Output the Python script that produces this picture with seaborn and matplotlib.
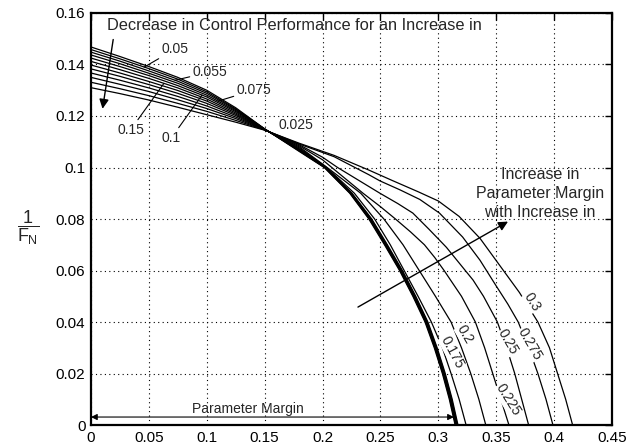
import numpy as np
import pandas as pd
import matplotlib
matplotlib.use("Agg")
import matplotlib.pyplot as plt
import seaborn as sns

# ---- curve data: 1/F_N against parameter margin, one curve per parameter value ----
params = ["0.025", "0.05", "0.055", "0.075", "0.1", "0.15",
          "0.175", "0.2", "0.225", "0.25", "0.275", "0.3"]

x_0025 = [0, 0.025, 0.05, 0.075, 0.1, 0.125, 0.15, 0.18, 0.2015, 0.2235, 0.2400, 0.2535, 0.2665, 0.2780, 0.2885, 0.2965, 0.3035, 0.3095, 0.3145]
y_0025 = [0.1468, 0.1431, 0.1392, 0.1350, 0.1300, 0.1232, 0.1150, 0.1062, 0.100, 0.090, 0.080, 0.070, 0.060, 0.050, 0.040, 0.030, 0.020, 0.010, 0.0]

x_0050 = [0, 0.025, 0.05, 0.075, 0.1, 0.125, 0.15, 0.18, 0.2018, 0.2239, 0.2405, 0.2540, 0.2670, 0.2785, 0.2890, 0.2970, 0.3040, 0.3100, 0.3150]
y_0050 = [0.1458, 0.1422, 0.1384, 0.1343, 0.1294, 0.1228, 0.1150, 0.1064, 0.100, 0.090, 0.080, 0.070, 0.060, 0.050, 0.040, 0.030, 0.020, 0.010, 0.0]

x_0055 = [0, 0.025, 0.05, 0.075, 0.1, 0.125, 0.15, 0.18, 0.2021, 0.2243, 0.2410, 0.2545, 0.2675, 0.2790, 0.2895, 0.2975, 0.3045, 0.3105, 0.3155]
y_0055 = [0.1448, 0.1413, 0.1375, 0.1335, 0.1288, 0.1225, 0.1149, 0.1066, 0.100, 0.090, 0.080, 0.070, 0.060, 0.050, 0.040, 0.030, 0.020, 0.010, 0.0]

x_0075 = [0, 0.025, 0.05, 0.075, 0.1, 0.125, 0.15, 0.18, 0.2024, 0.2247, 0.2415, 0.2550, 0.2680, 0.2795, 0.2900, 0.2980, 0.3050, 0.3110, 0.3160]
y_0075 = [0.1437, 0.1403, 0.1366, 0.1327, 0.1281, 0.1221, 0.1149, 0.1068, 0.100, 0.090, 0.080, 0.070, 0.060, 0.050, 0.040, 0.030, 0.020, 0.010, 0.0]

x_0100 = [0, 0.025, 0.05, 0.075, 0.1, 0.125, 0.15, 0.18, 0.2027, 0.2251, 0.2420, 0.2555, 0.2685, 0.2800, 0.2905, 0.2985, 0.3055, 0.3115, 0.3165]
y_0100 = [0.1425, 0.1392, 0.1357, 0.1318, 0.1274, 0.1217, 0.1149, 0.1070, 0.100, 0.090, 0.080, 0.070, 0.060, 0.050, 0.040, 0.030, 0.020, 0.010, 0.0]

x_0150 = [0, 0.025, 0.05, 0.075, 0.1, 0.125, 0.15, 0.18, 0.2030, 0.2255, 0.2425, 0.2560, 0.2690, 0.2805, 0.2910, 0.2990, 0.3060, 0.3120, 0.3170]
y_0150 = [0.1412, 0.1380, 0.1346, 0.1309, 0.1266, 0.1212, 0.1148, 0.1072, 0.100, 0.090, 0.080, 0.070, 0.060, 0.050, 0.040, 0.030, 0.020, 0.010, 0.0]

x_0175 = [0, 0.025, 0.05, 0.075, 0.1, 0.125, 0.15, 0.18, 0.2035, 0.2275, 0.2450, 0.2585, 0.2705, 0.2825, 0.2940, 0.3035, 0.3110, 0.3180, 0.3240]
y_0175 = [0.1398, 0.1367, 0.1334, 0.1299, 0.1258, 0.1207, 0.1148, 0.1076, 0.100, 0.090, 0.080, 0.070, 0.060, 0.050, 0.040, 0.030, 0.020, 0.010, 0.0]

x_0200 = [0, 0.025, 0.05, 0.075, 0.1, 0.125, 0.15, 0.18, 0.2040, 0.2330, 0.2530, 0.2695, 0.2835, 0.2975, 0.3110, 0.3200, 0.3280, 0.3350, 0.3410]
y_0200 = [0.1383, 0.1354, 0.1322, 0.1288, 0.1249, 0.1202, 0.1147, 0.1080, 0.100, 0.090, 0.080, 0.070, 0.060, 0.050, 0.040, 0.030, 0.020, 0.010, 0.0]

x_0225 = [0, 0.025, 0.05, 0.075, 0.1, 0.125, 0.15, 0.18, 0.2, 0.208, 0.235, 0.250, 0.263, 0.276, 0.288, 0.297, 0.305, 0.320, 0.332, 0.340, 0.347, 0.354, 0.361]
y_0225 = [0.1367, 0.1339, 0.1309, 0.1276, 0.1239, 0.1196, 0.1147, 0.1084, 0.1030, 0.100, 0.090, 0.0848, 0.080, 0.075, 0.070, 0.065, 0.060, 0.050, 0.040, 0.030, 0.020, 0.010, 0.0]

x_0250 = [0, 0.025, 0.05, 0.075, 0.1, 0.125, 0.15, 0.18, 0.2, 0.213, 0.2496, 0.265, 0.278, 0.292, 0.307, 0.330, 0.339, 0.351, 0.359, 0.366, 0.372, 0.378]
y_0250 = [0.1350, 0.1323, 0.1295, 0.1263, 0.1229, 0.1190, 0.1146, 0.1088, 0.1040, 0.100, 0.090, 0.086, 0.0823, 0.076, 0.069, 0.0563, 0.050, 0.040, 0.030, 0.020, 0.010, 0.0]

x_0275 = [0, 0.025, 0.05, 0.075, 0.1, 0.125, 0.15, 0.18, 0.21, 0.24, 0.2496, 0.267, 0.284, 0.301, 0.321, 0.336, 0.350, 0.360, 0.369, 0.378, 0.386, 0.393, 0.399]
y_0275 = [0.1331, 0.1306, 0.1279, 0.1249, 0.1218, 0.1183, 0.1146, 0.1091, 0.1042, 0.0972, 0.0948, 0.0913, 0.0876, 0.0823, 0.0730, 0.0640, 0.0540, 0.0470, 0.040, 0.030, 0.020, 0.010, 0.0]

x_0300 = [0, 0.025, 0.05, 0.075, 0.1, 0.125, 0.15, 0.18, 0.21, 0.24, 0.26, 0.283, 0.300, 0.318, 0.336, 0.353, 0.370, 0.386, 0.396, 0.403, 0.410, 0.416]
y_0300 = [0.1310, 0.1287, 0.1262, 0.1234, 0.1205, 0.1176, 0.1145, 0.1094, 0.1047, 0.0990, 0.0950, 0.0905, 0.0870, 0.0810, 0.0725, 0.0620, 0.0515, 0.040, 0.030, 0.020, 0.010, 0.0]

curve_x = [x_0025, x_0050, x_0055, x_0075, x_0100, x_0150,
           x_0175, x_0200, x_0225, x_0250, x_0275, x_0300]
curve_y = [y_0025, y_0050, y_0055, y_0075, y_0100, y_0150,
           y_0175, y_0200, y_0225, y_0250, y_0275, y_0300]

# tick labels
x_ticks = [0, 0.05, 0.1, 0.15, 0.2, 0.25, 0.3, 0.35, 0.4, 0.45]
x_ticklabels = ["0", "0.05", "0.1", "0.15", "0.2", "0.25", "0.3", "0.35", "0.4", "0.45"]
y_ticks = [0, 0.02, 0.04, 0.06, 0.08, 0.1, 0.12, 0.14, 0.16]
y_ticklabels = ["0", "0.02", "0.04", "0.06", "0.08", "0.1", "0.12", "0.14", "0.16"]

# long-form table for seaborn
rows = []
for p, xs, ys in zip(params, curve_x, curve_y):
    for i, (xv, yv) in enumerate(zip(xs, ys)):
        rows.append({"param": p, "order": i, "margin": xv, "invF": yv})
df = pd.DataFrame(rows)

sns.set_style("white")
plt.rcParams["font.family"] = ["Liberation Sans", "DejaVu Sans"]
plt.rcParams["mathtext.fontset"] = "custom"
plt.rcParams["mathtext.rm"] = "Liberation Sans"
plt.rcParams["mathtext.it"] = "Liberation Sans"

fig = plt.figure(figsize=(6.3, 4.48), dpi=100)
ax = fig.add_axes([0.1444, 0.0513, 0.8270, 0.9197])

sns.lineplot(data=df, x="margin", y="invF", units="param", estimator=None,
             sort=False, color="black", linewidth=0.9, legend=False, ax=ax)

ax.set_xlim(0, 0.45)
ax.set_ylim(0, 0.16)
ax.set_xticks(x_ticks)
ax.set_xticklabels(x_ticklabels)
ax.set_yticks(y_ticks)
ax.set_yticklabels(y_ticklabels)
ax.set_xlabel("")
ax.set_ylabel(r"$\dfrac{1}{F_N}$", fontsize=13, rotation=0, va="center", ha="center")
ax.yaxis.set_label_coords(-0.121, 0.478)

ax.grid(True, color="black", linestyle=(0, (1, 3)), linewidth=0.8)
ax.tick_params(direction="in", length=5, width=1, top=True, right=True,
               labelsize=11, colors="black", pad=4)
for s in ax.spines.values():
    s.set_visible(True)
    s.set_color("black")
    s.set_linewidth(1.6)

# ---- annotations ----
ax.text(0.0138, 0.1553, "Decrease in Control Performance for an Increase in",
        fontsize=11.8, ha="left", va="center")
ax.annotate("", xy=(0.0100, 0.1228), xytext=(0.0192, 0.1497),
            arrowprops=dict(arrowstyle="-|>", color="black", lw=1.0,
                            mutation_scale=14, shrinkA=0, shrinkB=0))


def on_curve(label, xv):
    i = params.index(label)
    return (xv, float(np.interp(xv, curve_x[i], curve_y[i])))


pointer = dict(arrowstyle="-", color="black", lw=0.8, shrinkA=0, shrinkB=0)
ax.annotate("0.05", xy=on_curve("0.05", 0.046), xytext=(0.0613, 0.1433),
            ha="left", va="bottom", fontsize=10, arrowprops=pointer)
ax.annotate("0.055", xy=on_curve("0.055", 0.0726), xytext=(0.0881, 0.1371),
            ha="left", va="center", fontsize=10, arrowprops=pointer)
ax.annotate("0.075", xy=on_curve("0.075", 0.1097), xytext=(0.1261, 0.1301),
            ha="left", va="center", fontsize=10, arrowprops=pointer)
ax.annotate("0.15", xy=on_curve("0.15", 0.063), xytext=(0.0458, 0.1173),
            ha="right", va="top", fontsize=10, arrowprops=pointer)
ax.annotate("0.1", xy=on_curve("0.1", 0.0959), xytext=(0.0777, 0.1142),
            ha="right", va="top", fontsize=10, arrowprops=pointer)
ax.text(0.1771, 0.1165, "0.025", fontsize=10, ha="center", va="center")

# inline labels on the outer curves
inline = [("0.3", 0.381, 0.0478, -58), ("0.275", 0.379, 0.0315, -60),
          ("0.25", 0.360, 0.0322, -60), ("0.2", 0.323, 0.0350, -60),
          ("0.175", 0.312, 0.0283, -62), ("0.225", 0.360, 0.0097, -58)]
for txt, xv, yv, rot in inline:
    ax.text(xv, yv, txt, fontsize=10, rotation=rot, ha="center", va="center",
            rotation_mode="anchor",
            bbox=dict(facecolor="white", edgecolor="none", pad=0.3))

ax.text(0.3877, 0.0900, "Increase in\nParameter Margin\nwith Increase in",
        fontsize=11.5, ha="center", va="center", linespacing=1.35)
ax.annotate("", xy=(0.3602, 0.0790), xytext=(0.2306, 0.0458),
            arrowprops=dict(arrowstyle="-|>", color="black", lw=1.0,
                            mutation_scale=14, shrinkA=0, shrinkB=0))

ax.annotate("", xy=(0.0, 0.0031), xytext=(0.3135, 0.0031),
            arrowprops=dict(arrowstyle="<|-|>", color="black", lw=0.8,
                            mutation_scale=9, shrinkA=0, shrinkB=0))
ax.text(0.1358, 0.0062, "Parameter Margin", fontsize=10, ha="center", va="center")

fig.savefig("out.png", dpi=100)
